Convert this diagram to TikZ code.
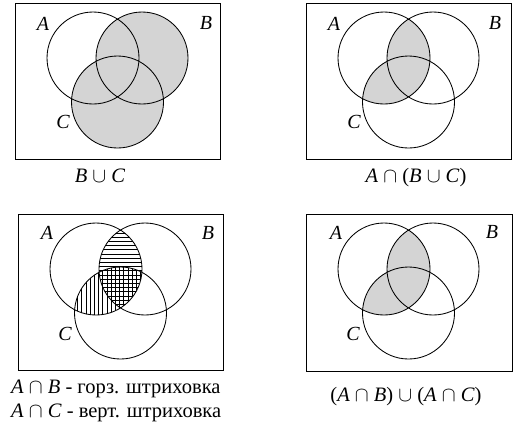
\documentclass[tikz,border=0pt]{standalone}
\usepackage{fontspec}
\setmainfont{Liberation Serif}
\definecolor{fillg}{RGB}{212,212,212}
\tikzset{
  frame/.style={draw, line width=1.1pt},
  setc/.style={draw, line width=0.85pt},
  lbl/.style={font=\fontsize{20}{22}\selectfont\itshape, inner sep=0pt},
  capt/.style={font=\fontsize{20.5}{23}\selectfont, inner sep=0pt},
  hatch/.style={line width=0.45pt}
}
\newcommand{\vennA}{(78,55) circle[radius=46]}
\newcommand{\vennB}{(127,55) circle[radius=46]}
\newcommand{\vennC}{(102.5,99) circle[radius=46]}
\newcommand{\opcap}{\ $\cap$\ }
\newcommand{\opcup}{\ $\cup$\ }
\begin{document}
\begin{tikzpicture}[x=1pt,y=-1pt]
\useasboundingbox (0,0) rectangle (513,432);
% ---------- top left: B u C
\begin{scope}[shift={(15,3)}]
  \fill[fillg] \vennB;
  \fill[fillg] \vennC;
  \draw[setc] \vennA \vennB \vennC;
  \node[frame, minimum width=205pt, minimum height=156pt, anchor=north west, inner sep=0pt] (r1) at (0,0) {};
  \node[lbl] (a1) at (28,21) {A};
  \node[lbl] (b1) at (191,20) {B};
  \node[lbl] (c1) at (48,119) {C};
\end{scope}
\node[capt, anchor=base] (t1) at (100,182) {\textit{B}\opcup\textit{C}};
% ---------- top right: A n (B u C)
\begin{scope}[shift={(306,3)}]
  \begin{scope}
    \clip \vennA;
    \fill[fillg] \vennB;
    \fill[fillg] \vennC;
  \end{scope}
  \draw[setc] \vennA \vennB \vennC;
  \node[frame, minimum width=205pt, minimum height=156pt, anchor=north west, inner sep=0pt] (r2) at (0,0) {};
  \node[lbl] (a2) at (28,21) {A};
  \node[lbl] (b2) at (189,20) {B};
  \node[lbl] (c2) at (48,119) {C};
\end{scope}
\node[capt, anchor=base] (t2) at (416,182) {\textit{A}\opcap(\textit{B}\opcup\textit{C})};
% ---------- bottom left: hatching
\begin{scope}[shift={(18,214)}]
  \begin{scope}
    \clip \vennA;
    \clip \vennB;
    \foreach \y in {2,6.2,...,102} \draw[hatch] (20,\y) -- (190,\y);
  \end{scope}
  \begin{scope}
    \clip \vennA;
    \clip \vennC;
    \foreach \x in {30,34.2,...,160} \draw[hatch] (\x,0) -- (\x,150);
  \end{scope}
  \draw[setc] \vennA \vennB \vennC;
  \node[frame, minimum width=205pt, minimum height=156pt, anchor=north west, inner sep=0pt] (r3) at (0,0) {};
  \node[lbl] (a3) at (29,19) {A};
  \node[lbl] (b3) at (190,19) {B};
  \node[lbl] (c3) at (47,120) {C};
\end{scope}
\node[capt, anchor=base west] (t3) at (11,393) {\textit{A}\opcap\textit{B} - горз. штриховка};
\node[capt, anchor=base west] (t4) at (11,417) {\textit{A}\opcap\textit{C} - верт. штриховка};
% ---------- bottom right: (A n B) u (A n C)
\begin{scope}[shift={(306,214)}]
  \begin{scope}
    \clip \vennA;
    \fill[fillg] \vennB;
    \fill[fillg] \vennC;
  \end{scope}
  \draw[setc] \vennA \vennB \vennC;
  \node[frame, minimum width=206pt, minimum height=157pt, anchor=north west, inner sep=0pt] (r4) at (0,0) {};
  \node[lbl] (a4) at (30,19) {A};
  \node[lbl] (b4) at (186,18) {B};
  \node[lbl] (c4) at (47,120) {C};
\end{scope}
\node[capt, anchor=base] (t5) at (406,401) {(\textit{A}\opcap\textit{B})\opcup(\textit{A}\opcap\textit{C})};
\end{tikzpicture}
\end{document}
